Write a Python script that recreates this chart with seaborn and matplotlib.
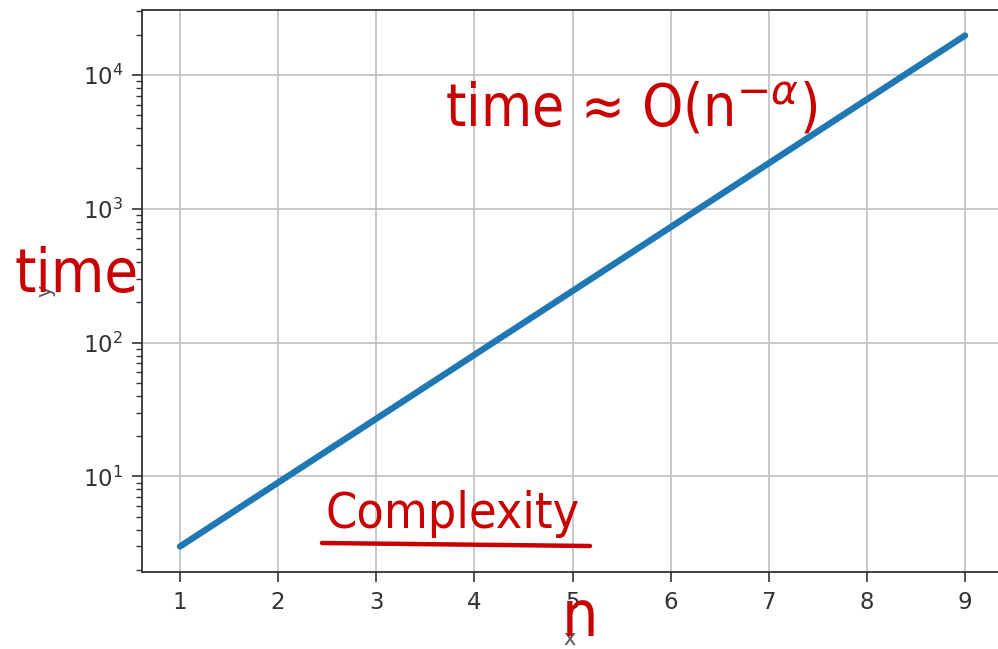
import matplotlib
matplotlib.use("Agg")
import matplotlib.pyplot as plt
import seaborn as sns
import pandas as pd
from matplotlib.lines import Line2D

# Problem size n and the measured running time (grows by a factor of 3 per step)
n_values = [1, 2, 3, 4, 5, 6, 7, 8, 9]
time_values = [3, 9, 27, 81, 243, 729, 2187, 6561, 19683]

df = pd.DataFrame({"x": n_values, "y": time_values})

sns.set_style("white")
plt.rcParams["font.family"] = ["DejaVu Sans"]

W, H = 998, 649
fig = plt.figure(figsize=(W / 100, H / 100), dpi=100)
# axes box: left spine at 142 px, top at 10 px, bottom at 572 px, right edge at the canvas edge
left_px, right_px = 142, 998
ax = fig.add_axes([left_px / W, (H - 572) / H, (right_px - left_px) / W, (572 - 10) / H])

sns.lineplot(data=df, x="x", y="y", ax=ax, color="#1f77b4", linewidth=4.6)
ax.set_yscale("log")
ax.set_xticks(n_values)
# keep n=1 at 180 px and n=9 at 965 px
unit = (965 - 180) / 8
ax.set_xlim(1 - (180 - left_px) / unit, 9 + (right_px - 965) / unit)

ax.grid(True, which="major", color="#c4c4c4", linewidth=1.3)
for side, sp in ax.spines.items():
    sp.set_color("#333333")
    sp.set_linewidth(1.3)
# the right edge of the frame is cut off
ax.spines["right"].set_visible(False)
ax.tick_params(axis="both", which="major", length=7, width=1.2, pad=6.5, colors="#333333",
               labelsize=16.5, labelcolor="#333333", left=True, bottom=True)
ax.tick_params(axis="y", which="minor", length=4, width=1.0, colors="#333333", left=True)

ax.set_xlabel("x", fontsize=15, color="#555555", labelpad=11)
ax.set_ylabel("y", fontsize=15, color="#555555", labelpad=20)

red = "#c80000"
hand = dict(color=red, family="DejaVu Sans", stretch="condensed")


def fx(px):
    return px / W


def fy(py):
    return 1 - py / H


fig.text(fx(445), fy(126), r"time ≈ O(n$^{-α}$)", fontsize=42, ha="left", va="baseline", **hand)
fig.text(fx(14), fy(292), "time", fontsize=44, ha="left", va="baseline", **hand)
fig.text(fx(325), fy(528), "Complexity", fontsize=36, ha="left", va="baseline", **hand)
fig.text(fx(562), fy(636), "n", fontsize=46, ha="left", va="baseline", **hand)
fig.add_artist(Line2D([fx(322), fx(590)], [fy(543), fy(546)], transform=fig.transFigure,
                      color=red, linewidth=3.2, solid_capstyle="round"))

fig.savefig("out.png", dpi=100)
